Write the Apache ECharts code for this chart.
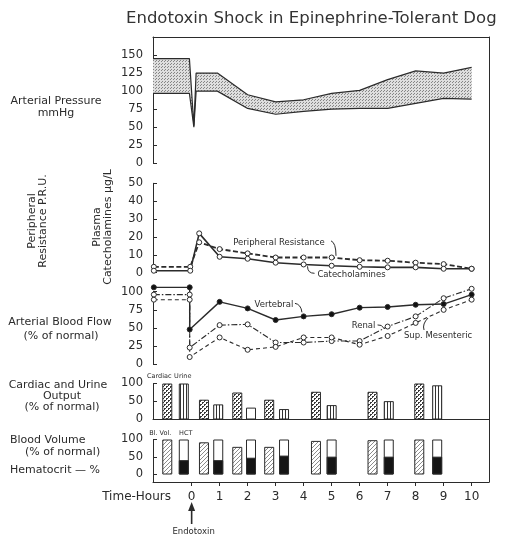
<!DOCTYPE html>
<html><head><meta charset="utf-8">
<script src="https://cdn.jsdelivr.net/npm/echarts@6/dist/echarts.min.js"></script>
<style>html,body{margin:0;padding:0;background:#fff}#chart{width:514px;height:535px}</style>
</head><body><div id="chart"></div>
<script>
// ---------------- data ----------------
const titleText = 'Endotoxin Shock in Epinephrine-Tolerant Dog';
const hourTicks = [0, 1, 2, 3, 4, 5, 6, 7, 8, 9, 10];

// Arterial pressure band (mmHg)
const pressureTimes = [-1.38, -0.08, 0.08, 0.16, 0.92, 2, 3, 4, 5, 6, 7, 8, 9, 10];
const systolic      = [145, 145, 52, 125, 125, 95, 85, 88, 97, 101, 116, 128, 125, 133];
const diastolic     = [97, 97, 50, 100, 100, 76, 68, 72, 75, 76, 76, 83, 90, 89];
const pressureTicks = [0, 25, 50, 75, 100, 125, 150];

// Plasma catecholamines (ug/L) and peripheral resistance (P.R.U.)
const catTimes = [-1.35, -0.05, 0.27, 1, 2, 3, 4, 5, 6, 7, 8, 9, 10];
const catecholamines = [1.1, 1.1, 22, 8.9, 7.8, 5.6, 4.6, 3.9, 3.3, 3.0, 3.0, 2.2, 2.2];
const peripheralResistance = [0.33, 0.33, 1.7, 1.32, 1.08, 0.85, 0.85, 0.85, 0.7, 0.67, 0.56, 0.48, 0.22];
const catTicks = [0, 10, 20, 30, 40, 50];
const prTicks = [0, 1, 2, 3, 4, 5];

// Arterial blood flow (% of normal)
const flowTimes = [-1.35, -0.07, -0.07, 1, 2, 3, 4, 5, 6, 7, 8, 9, 10];
const vertebral  = [106, 106, 48, 86, 77, 61, 66, 69, 78, 79, 82, 83, 96];
const renal      = [96, 96, 23, 54, 55, 30, 30, 32, 32, 52, 66, 91, 104];
const mesenteric = [89, 89, 10, 37, 20, 24, 37, 37, 27, 39, 57, 75, 89];
const flowTicks = [0, 25, 50, 75, 100];

// Cardiac and urine output (% of normal)
const cardiacTimes  = [-0.87, 0.44, 1.63, 2.77, 4.44, 6.46, 8.13];
const cardiacOutput = [100, 55, 75, 55, 77, 77, 100];
const urineTimes    = [-0.28, 0.95, 2.12, 3.3, 5.0, 7.04, 8.77];
const urineOutput   = [100, 42, 33, 29, 40, 51, 95];
const outputTicks = [0, 50, 100];

// Blood volume (% of normal) and hematocrit (%)
const bloodVolume = [100, 92, 79, 79, 96, 98, 100];
const hctFrameTop = [100, 100, 100, 100, 100, 100, 100];
const hematocrit  = [41, 41, 48, 54, 51, 51, 51];
const volumeTicks = [0, 50, 100];

// ---------------- styling ----------------
const C = '#2b2b2b';
const FONT = 'DejaVu Sans';
const X_MIN = -1.38, X_MAX = 10.62;

function makePattern(w, h, draw) {
  const c = document.createElement('canvas'); c.width = w; c.height = h;
  const ctx = c.getContext('2d'); draw(ctx); return { image: c, repeat: 'repeat' };
}
const stipple = makePattern(3, 3, ctx => {
  ctx.fillStyle = '#dedede'; ctx.fillRect(0, 0, 3, 3);
  ctx.fillStyle = '#858585'; ctx.fillRect(0, 0, 1, 1); ctx.fillRect(2, 1, 1, 1);
});
const dots = makePattern(4, 4, ctx => {
  ctx.fillStyle = '#fff'; ctx.fillRect(0, 0, 4, 4);
  ctx.fillStyle = '#3a3a3a'; ctx.fillRect(0, 0, 2, 1); ctx.fillRect(0, 1, 1, 1);
  ctx.fillRect(2, 2, 2, 1); ctx.fillRect(2, 3, 1, 1);
});
const vlines = makePattern(3, 3, ctx => {
  ctx.fillStyle = '#fff'; ctx.fillRect(0, 0, 3, 3);
  ctx.fillStyle = '#333'; ctx.fillRect(0, 0, 1, 3);
});
const hatch = makePattern(4, 4, ctx => {
  ctx.fillStyle = '#fff'; ctx.fillRect(0, 0, 4, 4);
  ctx.fillStyle = '#8c8c8c';
  ctx.fillRect(3, 0, 1, 1); ctx.fillRect(2, 1, 1, 1); ctx.fillRect(1, 2, 1, 1); ctx.fillRect(0, 3, 1, 1);
});

function xAx(gi, extra) {
  return Object.assign({
    type: 'value', gridIndex: gi, min: X_MIN, max: X_MAX,
    axisLine: { show: false, onZero: false, lineStyle: { color: C, width: 1 } },
    axisTick: { show: false }, axisLabel: { show: false }, splitLine: { show: false }
  }, extra || {});
}
function yAx(gi, min, max, ticks, extra) {
  return Object.assign({
    type: 'value', gridIndex: gi, min: min, max: max,
    axisLine: { show: true, onZero: false, lineStyle: { color: C, width: 1 } },
    axisTick: { show: true, inside: true, length: 4, customValues: ticks, lineStyle: { color: C } },
    axisLabel: { show: true, customValues: ticks, margin: 10, color: C, fontFamily: FONT, fontSize: 11.5 },
    splitLine: { show: false }
  }, extra || {});
}
function lineSeries(name, xi, yi, times, vals, style, filled) {
  return {
    name: name, type: 'line', xAxisIndex: xi, yAxisIndex: yi, clip: false,
    data: times.map((t, i) => [t, vals[i]]),
    symbol: 'circle', symbolSize: 5, showSymbol: true,
    lineStyle: Object.assign({ color: C, width: 1.3 }, style),
    itemStyle: { color: filled ? '#111' : '#fff', borderColor: C, borderWidth: 1 },
    emphasis: { disabled: true }, z: 5
  };
}
function barSeries(name, xi, yi, times, vals, fill, z) {
  return {
    name: name, type: 'bar', xAxisIndex: xi, yAxisIndex: yi,
    data: times.map((t, i) => [t, vals[i]]),
    barWidth: 10, barGap: '-100%',
    itemStyle: { color: fill, borderColor: C, borderWidth: 1 },
    emphasis: { disabled: true }, z: z || 2
  };
}

const chart = echarts.init(document.getElementById('chart'), null, { renderer: 'canvas' });
const gridBase = { left: 153, right: 25, outerBoundsMode: 'none', containLabel: false };
chart.setOption({
  animation: false,
  backgroundColor: '#fff',
  title: { text: titleText, left: 121, top: 5,
    textStyle: { fontFamily: FONT, fontSize: 16.5, fontWeight: 'normal', color: '#333' } },
  grid: [
    Object.assign({ top: 37, height: 126.3 }, gridBase),
    Object.assign({ top: 183.3, height: 89.4 }, gridBase),
    Object.assign({ top: 291.7, height: 72.6 }, gridBase),
    Object.assign({ top: 383.5, height: 36 }, gridBase),
    Object.assign({ top: 439.5, height: 42.5 }, gridBase),
    Object.assign({ top: 37, height: 445 }, gridBase)
  ],
  xAxis: [
    xAx(0, { position: 'top', axisLine: { show: true, onZero: false, lineStyle: { color: C } } }),
    xAx(1), xAx(2),
    xAx(3, { position: 'bottom', axisLine: { show: true, onZero: false, lineStyle: { color: C } } }),
    xAx(4, { position: 'bottom',
      axisLine: { show: true, onZero: false, lineStyle: { color: C } },
      axisTick: { show: true, inside: false, length: 4, customValues: hourTicks, lineStyle: { color: C } },
      axisLabel: { show: true, customValues: hourTicks, margin: 9, color: C, fontFamily: FONT, fontSize: 12 } }),
    xAx(5, { show: false })
  ],
  yAxis: [
    yAx(0, 0, 175, pressureTicks),
    yAx(1, 0, 50, catTicks),
    yAx(1, 0, 5, prTicks, { offset: 82, axisLabel: { show: true, customValues: prTicks, margin: 3, color: C, fontFamily: FONT, fontSize: 11.5 } }),
    yAx(2, 0, 100, flowTicks),
    yAx(3, 0, 100, outputTicks),
    yAx(4, -21.4, 100, volumeTicks),
    { type: 'value', gridIndex: 5, min: 0, max: 1, position: 'right',
      axisLine: { show: true, onZero: false, lineStyle: { color: C } },
      axisTick: { show: false }, axisLabel: { show: false }, splitLine: { show: false } }
  ],
  series: [
    { name: 'Pressure band', type: 'custom', xAxisIndex: 0, yAxisIndex: 0, silent: true, z: 1,
      data: pressureTimes.map((t, i) => [t, systolic[i], diastolic[i]]),
      encode: { x: 0, y: [1, 2] },
      renderItem: function (params, api) {
        if (params.dataIndexInside !== 0) return null;
        const n = params.dataInsideLength, top = [], bot = [];
        for (let i = 0; i < n; i++) {
          top.push(api.coord([api.value(0, i), api.value(1, i)]));
          bot.push(api.coord([api.value(0, i), api.value(2, i)]));
        }
        return { type: 'polygon', shape: { points: top.concat(bot.reverse()) }, style: { fill: stipple, stroke: null } };
      } },
    Object.assign(lineSeries('Systolic', 0, 0, pressureTimes, systolic, { width: 1.2 }), { symbol: 'none' }),
    Object.assign(lineSeries('Diastolic', 0, 0, pressureTimes, diastolic, { width: 1.2 }), { symbol: 'none' }),

    lineSeries('Peripheral Resistance', 1, 2, catTimes, peripheralResistance, { type: [5, 2.5], width: 1.8 }),
    lineSeries('Catecholamines', 1, 1, catTimes, catecholamines, { width: 1.6 }),

    lineSeries('Vertebral', 2, 3, flowTimes, vertebral, { width: 1.4 }, true),
    lineSeries('Renal', 2, 3, flowTimes, renal, { type: [6, 2, 1.5, 2], width: 1.1 }),
    lineSeries('Sup. Mesenteric', 2, 3, flowTimes, mesenteric, { type: [4, 3], width: 1.1 }),

    barSeries('Cardiac', 3, 4, cardiacTimes, cardiacOutput, dots),
    Object.assign(barSeries('Urine', 3, 4, urineTimes, urineOutput, vlines), {
      data: urineTimes.map((t, i) => i === 2 ? { value: [t, urineOutput[i]], itemStyle: { color: '#fff' } } : [t, urineOutput[i]])
    }),

    barSeries('Bl. Vol.', 4, 5, cardiacTimes, bloodVolume, hatch),
    barSeries('HCT frame', 4, 5, urineTimes, hctFrameTop, '#fff', 2),
    barSeries('HCT', 4, 5, urineTimes, hematocrit, '#151515', 3)
  ]
});

// ---------------- annotations ----------------
const px = (xi, yi, pt) => chart.convertToPixel({ xAxisIndex: xi, yAxisIndex: yi }, pt);
const txt = (x, y, s, size, align, extra) => Object.assign({
  type: 'text', x: x, y: y, silent: true,
  style: { text: s, fill: C, fontFamily: FONT, fontSize: size, align: align || 'center', verticalAlign: 'middle' }
}, extra || {});
const curve = (p1, cp, p2) => ({ type: 'bezierCurve', silent: true,
  shape: { x1: p1[0], y1: p1[1], cpx1: cp[0], cpy1: cp[1], x2: p2[0], y2: p2[1] },
  style: { stroke: C, lineWidth: 1, fill: null } });

const g = [];
// side labels
g.push(txt(56, 101.5, 'Arterial Pressure', 11));
g.push(txt(56, 113.5, 'mmHg', 11));
g.push(txt(38, 221, 'Peripheral\nResistance P.R.U.', 11, 'center', { rotation: Math.PI / 2, style: { text: 'Peripheral\nResistance P.R.U.', fill: C, fontFamily: FONT, fontSize: 11, align: 'center', verticalAlign: 'middle', lineHeight: 11 } }));
g.push(txt(103, 227, 'Plasma\nCatecholamines µg/L', 11, 'center', { rotation: Math.PI / 2, style: { text: 'Plasma\nCatecholamines µg/L', fill: C, fontFamily: FONT, fontSize: 11, align: 'center', verticalAlign: 'middle', lineHeight: 11 } }));
g.push(txt(60, 322.5, 'Arterial Blood Flow', 11));
g.push(txt(61, 336.5, '(% of normal)', 11));
g.push(txt(58, 385.5, 'Cardiac and Urine', 11));
g.push(txt(62, 396.5, 'Output', 11));
g.push(txt(62, 407, '(% of normal)', 11));
g.push(txt(10, 440, 'Blood Volume', 11, 'left'));
g.push(txt(25, 452.5, '(% of normal)', 11, 'left'));
g.push(txt(10, 470, 'Hematocrit — %', 11, 'left'));
g.push(txt(171, 497, 'Time-Hours', 12, 'right'));

// small bar legends
const pc = px(3, 4, [cardiacTimes[0], 100]);
const pu = px(3, 4, [urineTimes[0], 100]);
g.push(txt(pc[0] - 8, pc[1] - 7, 'Cardiac', 6.5));
g.push(txt(pu[0] - 1, pu[1] - 7, 'Urine', 6.5));
const pv = px(4, 5, [cardiacTimes[0], 100]);
const ph = px(4, 5, [urineTimes[0], 100]);
g.push(txt(pv[0] - 7, pv[1] - 6, 'Bl. Vol.', 6.5));
g.push(txt(ph[0] + 2, ph[1] - 6, 'HCT', 6.5));

// in-plot labels with leaders
const pPR = px(1, 1, [3.12, 16.7]);
g.push(txt(pPR[0], pPR[1], 'Peripheral Resistance', 8.5));
g.push(curve([pPR[0] + 52, pPR[1] - 2], [pPR[0] + 57, pPR[1]], [pPR[0] + 57, pPR[1] + 13]));
const pCat = px(1, 1, [5.71, -0.9]);
g.push(txt(pCat[0], pCat[1], 'Catecholamines', 8.5));
g.push(curve([pCat[0] - 37, pCat[1] - 1], [pCat[0] - 44, pCat[1] - 1], [pCat[0] - 44, pCat[1] - 8]));
const pV = px(2, 3, [2.94, 82.6]);
g.push(txt(pV[0], pV[1], 'Vertebral', 8.5));
g.push(curve([pV[0] + 21, pV[1] - 1], [pV[0] + 27, pV[1]], [pV[0] + 28, pV[1] + 8]));
const pR = px(2, 3, [6.14, 52.8]);
g.push(txt(pR[0], pR[1], 'Renal', 8.5));
g.push(curve([pR[0] + 14, pR[1] - 1], [pR[0] + 18, pR[1] - 2], [pR[0] + 21, pR[1] + 3]));
const pM = px(2, 3, [8.8, 39]);
g.push(txt(pM[0], pM[1], 'Sup. Mesenteric', 8.5));
g.push(curve([pM[0] - 14, pM[1] - 6], [pM[0] - 16, pM[1] - 12], [pM[0] - 10, pM[1] - 18]));

// endotoxin arrow at hour 0
const p0 = px(4, 5, [0, -21.4]);
g.push({ type: 'line', silent: true, shape: { x1: p0[0], y1: p0[1] + 27, x2: p0[0], y2: p0[1] + 42 }, style: { stroke: C, lineWidth: 1.6 } });
g.push({ type: 'polygon', silent: true, shape: { points: [[p0[0], p0[1] + 20], [p0[0] - 3.5, p0[1] + 29], [p0[0] + 3.5, p0[1] + 29]] }, style: { fill: C } });
g.push(txt(p0[0] + 2, p0[1] + 50, 'Endotoxin', 8.5));

chart.setOption({ graphic: g });
</script>
</body></html>
